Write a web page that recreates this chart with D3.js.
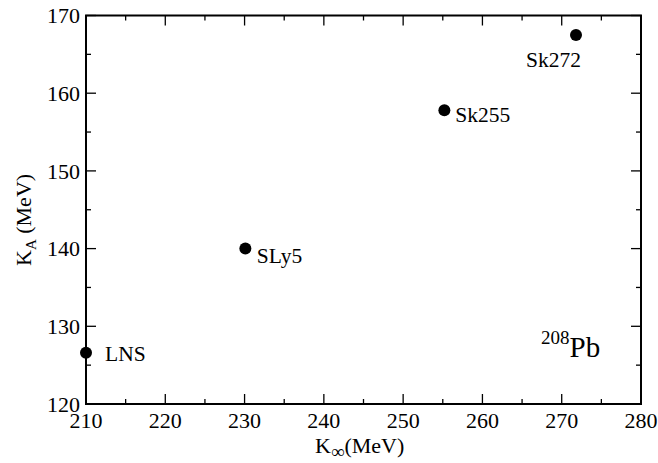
<!DOCTYPE html>
<html>
<head>
<meta charset="utf-8">
<script src="https://cdn.jsdelivr.net/npm/d3@7"></script>
<style>
  body { margin: 0; background: #fff; }
  svg text { font-family: "Liberation Serif", "DejaVu Serif", serif; fill: #000; }
</style>
</head>
<body>
<script>
// data
var models = ["LNS", "SLy5", "Sk255", "Sk272"];
var kInf = [210.0, 230.1, 255.2, 271.8];   // K_inf (MeV)
var kA = [126.6, 140.0, 157.8, 167.5];     // K_A (MeV)
var xTicks = [210, 220, 230, 240, 250, 260, 270, 280];
var yTicks = [120, 130, 140, 150, 160, 170];

// label placement relative to each point (layout only)
var labelDx = [19, 11.5, 11, -50];
var labelDy = [8, 14, 12, 32];

var width = 658;
var height = 463;
var margin = {top: 15.5, right: 17, bottom: 59, left: 86};
var innerW = width - margin.left - margin.right;
var innerH = height - margin.top - margin.bottom;

var svg = d3.select("body").append("svg")
    .attr("width", width)
    .attr("height", height);

var g = svg.append("g")
    .attr("transform", "translate(" + margin.left + "," + margin.top + ")");

var x = d3.scaleLinear().domain([210, 280]).range([0, innerW]);
var y = d3.scaleLinear().domain([120, 170]).range([innerH, 0]);

var xMinor = d3.range(215, 280, 10);
var yMinor = d3.range(125, 170, 10);

// ticks (inside the frame, mirrored on all sides)
function drawTicks(sel, vals, len) {
  vals.forEach(function(v) {
    var px = x(v);
    sel.append("line").attr("x1", px).attr("x2", px).attr("y1", innerH).attr("y2", innerH - len);
    sel.append("line").attr("x1", px).attr("x2", px).attr("y1", 0).attr("y2", len);
  });
}
function drawYTicks(sel, vals, len) {
  vals.forEach(function(v) {
    var py = y(v);
    sel.append("line").attr("y1", py).attr("y2", py).attr("x1", 0).attr("x2", len);
    sel.append("line").attr("y1", py).attr("y2", py).attr("x1", innerW).attr("x2", innerW - len);
  });
}
var tickG = g.append("g").attr("stroke", "#000").attr("stroke-width", 1.3);
drawTicks(tickG, xTicks, 10);
drawTicks(tickG, xMinor, 5);
drawYTicks(tickG, yTicks, 10);
drawYTicks(tickG, yMinor, 5);

// frame
g.append("rect")
  .attr("width", innerW)
  .attr("height", innerH)
  .attr("fill", "none")
  .attr("stroke", "#000")
  .attr("stroke-width", 2);

// tick labels
g.selectAll(".xl").data(xTicks).enter().append("text")
  .attr("x", function(d) { return x(d); })
  .attr("y", innerH + 24)
  .attr("text-anchor", "middle")
  .style("font-size", "22px")
  .text(function(d) { return d; });

g.selectAll(".yl").data(yTicks).enter().append("text")
  .attr("x", -6)
  .attr("y", function(d) { return y(d); })
  .attr("dy", "0.35em")
  .attr("text-anchor", "end")
  .style("font-size", "22px")
  .text(function(d) { return d; });

// points
g.selectAll("circle").data(models).enter().append("circle")
  .attr("cx", function(d, i) { return x(kInf[i]); })
  .attr("cy", function(d, i) { return y(kA[i]); })
  .attr("r", 6)
  .attr("fill", "#000");

g.selectAll(".pl").data(models).enter().append("text")
  .attr("x", function(d, i) { return x(kInf[i]) + labelDx[i]; })
  .attr("y", function(d, i) { return y(kA[i]) + labelDy[i]; })
  .style("font-size", "21.5px")
  .text(function(d) { return d; });

// 208Pb annotation
var pb = svg.append("text")
  .attr("x", 541)
  .attr("y", 357);
pb.append("tspan").attr("dy", -13).style("font-size", "19px").text("208");
pb.append("tspan").attr("dy", 13).style("font-size", "29px").text("Pb");

// axis titles
var xt = svg.append("text")
  .attr("x", 315)
  .attr("y", 453)
  .style("font-size", "22px");
xt.append("tspan").text("K");
xt.append("tspan").attr("dy", 5).style("font-size", "19px").text("\u221E");
xt.append("tspan").attr("dy", -5).text("(MeV)");

var yt = svg.append("text")
  .attr("transform", "translate(31,266) rotate(-90)")
  .style("font-size", "22px");
yt.append("tspan").text("K");
yt.append("tspan").attr("dy", 5).style("font-size", "15px").text("A");
yt.append("tspan").attr("dy", -5).text(" (MeV)");
</script>
</body>
</html>
